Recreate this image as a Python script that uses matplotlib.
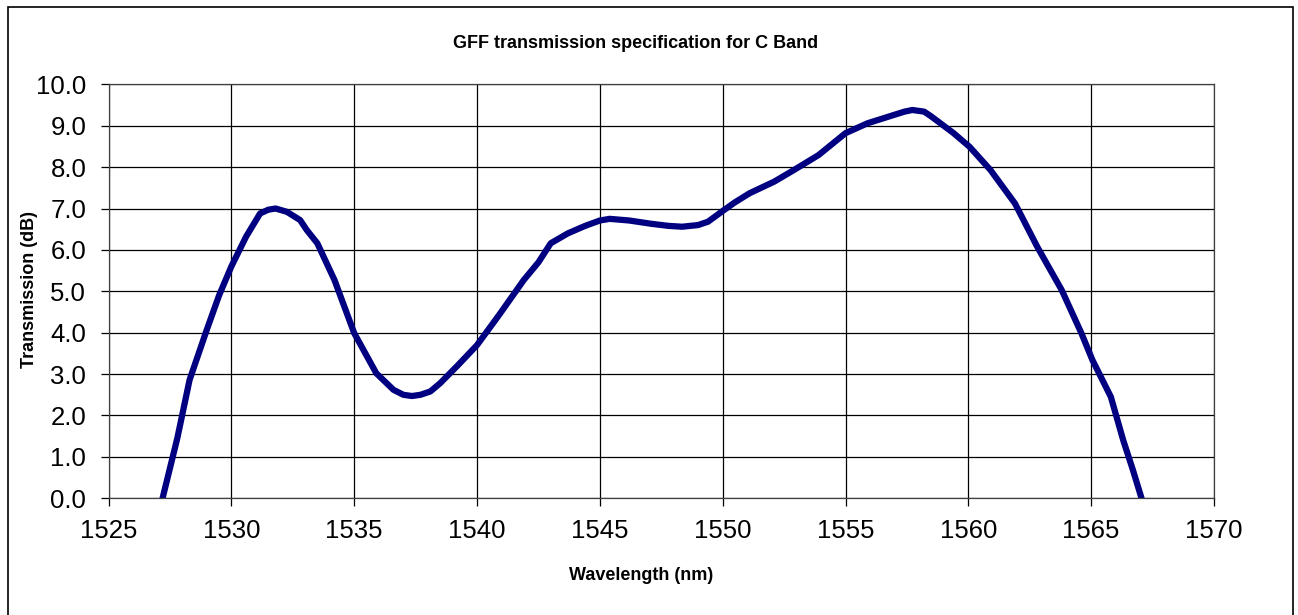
# -*- coding: UTF-8 -*-

# GFF transmission specification for C Band

import matplotlib.pyplot as plt
from matplotlib.patches import Rectangle

# wavelength (nm) and transmission (dB)
wavelength = [1527.2, 1527.8, 1528.3, 1529.0, 1529.5, 1530.0, 1530.6, 1531.17, 1531.5,
              1531.8, 1532.26, 1532.8, 1533.07, 1533.5, 1534.2, 1535.0, 1535.9, 1536.6,
              1537.0, 1537.35, 1537.7, 1538.1, 1538.5, 1539.2, 1540.0, 1540.9, 1541.9,
              1542.5, 1543.0, 1543.7, 1544.4, 1545.0, 1545.4, 1546.2, 1547.1, 1547.8,
              1548.35, 1549.0, 1549.4, 1550.0, 1550.5, 1551.1, 1552.1, 1552.9, 1553.9,
              1555.0, 1555.9, 1556.97, 1557.4, 1557.72, 1558.2, 1558.5, 1559.4, 1560.05,
              1560.9, 1561.9, 1562.8, 1563.8, 1564.6, 1565.05, 1565.8, 1566.3, 1566.7,
              1567.05]
transmission = [0.0, 1.45, 2.86, 4.07, 4.9, 5.6, 6.32, 6.88, 6.97,
                7.0, 6.92, 6.72, 6.48, 6.16, 5.27, 3.99, 3.02, 2.62,
                2.5, 2.47, 2.5, 2.58, 2.78, 3.2, 3.70, 4.43, 5.27,
                5.7, 6.16, 6.40, 6.58, 6.71, 6.75, 6.71, 6.63, 6.58,
                6.56, 6.6, 6.68, 6.94, 7.15, 7.37, 7.65, 7.93, 8.29,
                8.82, 9.06, 9.26, 9.34, 9.38, 9.34, 9.22, 8.82, 8.49,
                7.93, 7.12, 6.08, 5.03, 3.99, 3.34, 2.45, 1.41, 0.68,
                0.0]

x_ticks = [1525, 1530, 1535, 1540, 1545, 1550, 1555, 1560, 1565, 1570]
y_ticks = [0, 1, 2, 3, 4, 5, 6, 7, 8, 9, 10]

plt.rcParams['font.family'] = ['Liberation Sans', 'DejaVu Sans']

fig = plt.figure(figsize=(12.98, 6.15), dpi=100)
ax = fig.add_axes([0.0836, 0.1898, 0.8517, 0.6731])

# outer chart border
fig.patches.append(Rectangle((8 / 1298, -0.02), 1285 / 1298, 1.02 - 7 / 615,
                             transform=fig.transFigure, fill=False,
                             edgecolor='black', linewidth=1.2))

ax.plot(wavelength, transmission, color='#000080', linewidth=4.5,
        solid_capstyle='round', solid_joinstyle='round')

ax.set_xlim(1525, 1570)
ax.set_ylim(0, 10)
ax.set_xticks(x_ticks)
ax.set_yticks(y_ticks)
ax.set_yticklabels(['%.1f' % v for v in y_ticks])
ax.grid(True, color='black', linewidth=0.9)
ax.set_axisbelow(True)
ax.tick_params(direction='out', length=6, width=0.9, labelsize=18.5)
ax.tick_params(axis='x', pad=9)
ax.tick_params(axis='y', pad=10)
for s in ax.spines.values():
    s.set_linewidth(0.9)
    s.set_color('#404040')

fig.text(0.49, 1 - 43 / 615, 'GFF transmission specification for C Band',
         ha='center', va='center', fontsize=13, fontweight='bold')
fig.text(641 / 1298, 1 - 575 / 615, 'Wavelength (nm)',
         ha='center', va='center', fontsize=13, fontweight='bold')
fig.text(30 / 1298, 1 - 289 / 615, 'Transmission (dB)', rotation=90,
         ha='center', va='center', fontsize=13, fontweight='bold')

plt.savefig('out.png', dpi=100)
